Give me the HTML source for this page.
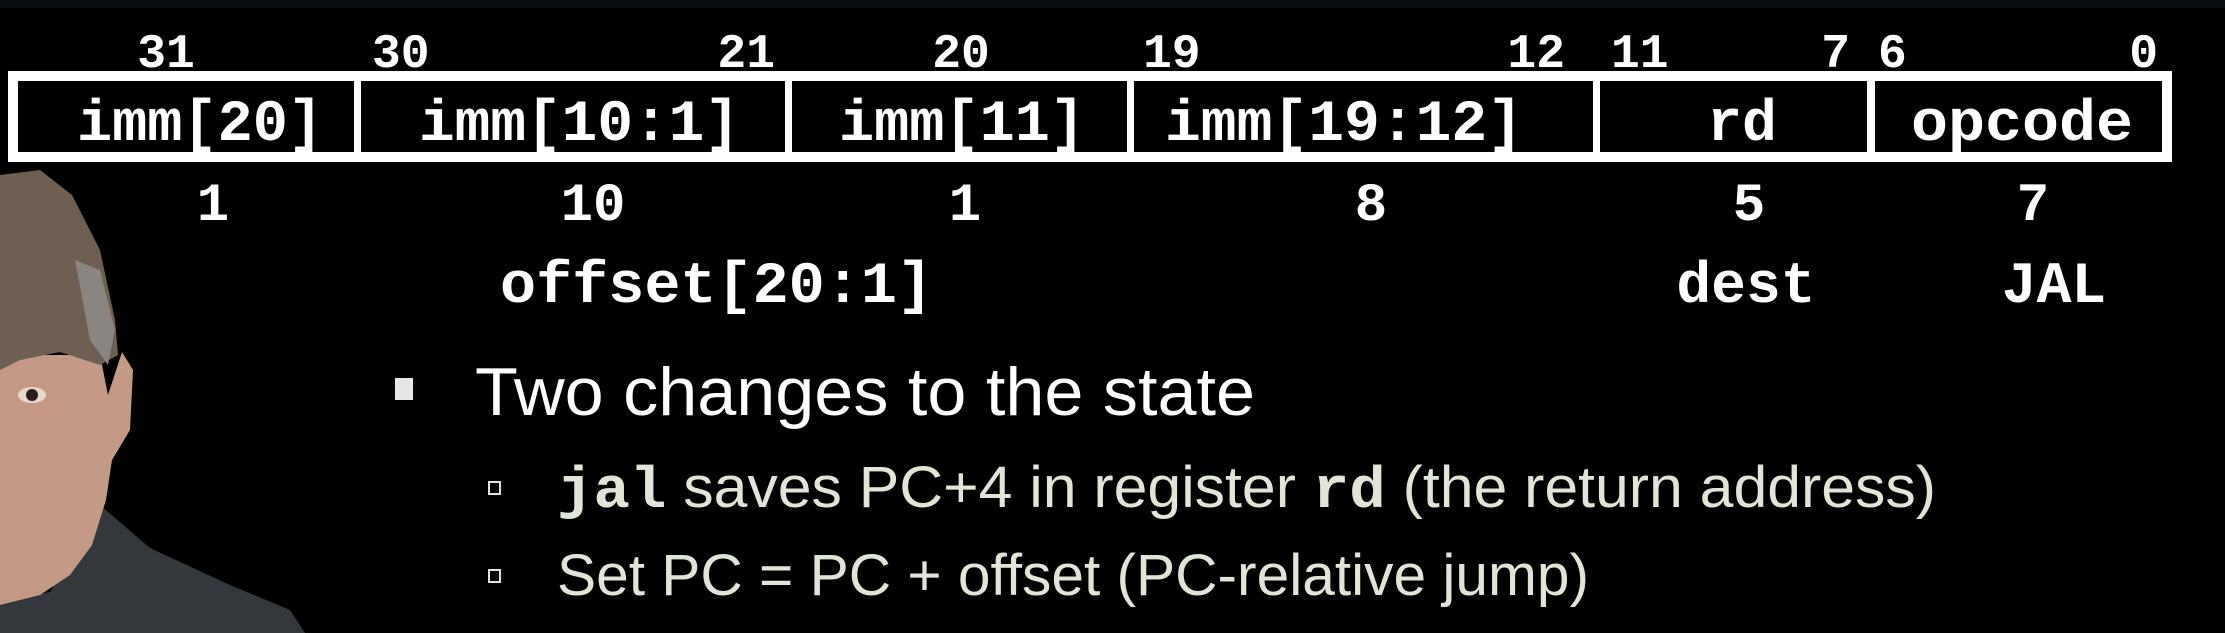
<!DOCTYPE html>
<html><head><meta charset="utf-8"><style>
html,body{margin:0;padding:0;background:#000;}
svg{display:block}
.m{font-family:"Liberation Mono",monospace;font-weight:bold;fill:#fff}
.s{font-family:"Liberation Sans",sans-serif}
</style></head><body>
<svg width="2225" height="633" viewBox="0 0 2225 633" xmlns="http://www.w3.org/2000/svg">
<rect width="2225" height="633" fill="#000"/>
<rect x="0" y="0" width="2225" height="8" fill="#0b0f14"/>
<!-- person -->
<polygon points="0,600 50,592 100,505 150,548 230,585 290,610 305,633 0,633" fill="#34373b"/>
<polygon points="0,355 100,355 108,395 122,352 133,370 130,430 112,460 106,500 92,545 70,575 40,595 0,605" fill="#c49a84"/>
<polygon points="0,175 40,170 72,195 100,250 115,320 118,355 100,365 60,352 20,360 0,370" fill="#6e5f50"/>
<polygon points="75,260 100,270 115,330 108,365 90,340" fill="#8a8580"/>
<ellipse cx="32" cy="395" rx="14" ry="8" fill="#e8d8cc"/>
<circle cx="32" cy="395" r="6" fill="#2a1c18"/>
<!-- frame -->
<rect x="13" y="76" width="2154" height="81" fill="none" stroke="#fff" stroke-width="10"/>
<rect x="354" y="81" width="7" height="71" fill="#fff"/>
<rect x="785" y="81" width="7" height="71" fill="#fff"/>
<rect x="1127" y="81" width="7" height="71" fill="#fff"/>
<rect x="1593" y="81" width="7" height="71" fill="#fff"/>
<rect x="1867" y="81" width="8" height="71" fill="#fff"/>
<!-- bit numbers -->
<g class="m" font-size="48">
<text x="166" y="67" text-anchor="middle">31</text>
<text x="372" y="67">30</text>
<text x="775" y="67" text-anchor="end">21</text>
<text x="961" y="67" text-anchor="middle">20</text>
<text x="1143" y="67">19</text>
<text x="1565" y="67" text-anchor="end">12</text>
<text x="1611" y="67">11</text>
<text x="1850" y="67" text-anchor="end">7</text>
<text x="1878" y="67">6</text>
<text x="2158" y="67" text-anchor="end">0</text>
</g>
<!-- field labels -->
<g class="m" font-size="58">
<text x="77" y="140" textLength="246" lengthAdjust="spacingAndGlyphs">imm[20]</text>
<text x="419" y="140" textLength="321" lengthAdjust="spacingAndGlyphs">imm[10:1]</text>
<text x="839" y="140" textLength="246" lengthAdjust="spacingAndGlyphs">imm[11]</text>
<text x="1165" y="140" textLength="358" lengthAdjust="spacingAndGlyphs">imm[19:12]</text>
<text x="1742" y="140" text-anchor="middle">rd</text>
<text x="1911" y="140" textLength="222" lengthAdjust="spacingAndGlyphs">opcode</text>
</g>
<!-- widths -->
<g class="m" font-size="54" text-anchor="middle">
<text x="213" y="220">1</text>
<text x="593" y="220">10</text>
<text x="965" y="220">1</text>
<text x="1371" y="220">8</text>
<text x="1749" y="220">5</text>
<text x="2033" y="220">7</text>
</g>
<g class="m" font-size="58">
<text x="500" y="302" textLength="433" lengthAdjust="spacingAndGlyphs">offset[20:1]</text>
<text x="1746" y="302" text-anchor="middle">dest</text>
<text x="2054" y="302" text-anchor="middle">JAL</text>
</g>
<!-- bullets -->
<rect x="395" y="378" width="18" height="22" fill="#e6e6e6"/>
<text class="s" x="475" y="415" font-size="68" fill="#fff" textLength="780" lengthAdjust="spacingAndGlyphs">Two changes to the state</text>
<rect x="489" y="482" width="11" height="12" fill="none" stroke="#dfe6d8" stroke-width="2"/>
<text x="557" y="507" font-size="58" fill="#dfe6d8" textLength="1379" lengthAdjust="spacingAndGlyphs"><tspan font-family="Liberation Mono, monospace" font-weight="bold">jal</tspan><tspan font-family="Liberation Sans, sans-serif"> saves PC+4 in register </tspan><tspan font-family="Liberation Mono, monospace" font-weight="bold">rd</tspan><tspan font-family="Liberation Sans, sans-serif"> (the return address)</tspan></text>
<rect x="489" y="570" width="11" height="12" fill="none" stroke="#dfe6d8" stroke-width="2"/>
<text class="s" x="557" y="595" font-size="58" fill="#dfe6d8" textLength="1032" lengthAdjust="spacingAndGlyphs">Set PC = PC + offset (PC-relative jump)</text>
</svg>
</body></html>
